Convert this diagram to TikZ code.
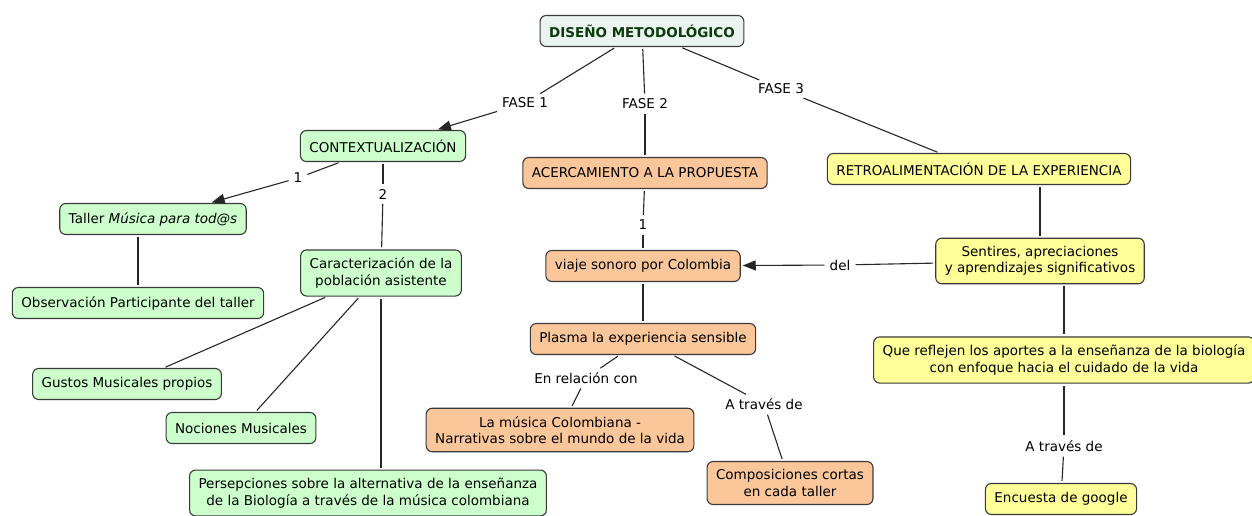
\documentclass[tikz,border=0pt]{standalone}
\usepackage{fontspec}
\setmainfont{DejaVu Sans}
\usetikzlibrary{arrows.meta}

\definecolor{verde}{HTML}{CCFFCC}
\definecolor{naranja}{HTML}{FAC69A}
\definecolor{amarillo}{HTML}{FFFF99}
\definecolor{gristit}{HTML}{EAF3EF}
\definecolor{verdeosc}{HTML}{0B3B0B}
\definecolor{borde}{HTML}{3A3A3A}

\begin{document}
\begin{tikzpicture}[x=1pt,y=-1pt,
  concepto/.style={draw=borde,line width=1.1pt,rounded corners=6pt,align=center,
    inner xsep=9pt,inner ysep=8pt,minimum height=31pt,font=\fontsize{13.5}{16.5}\selectfont},
  enlace/.style={inner sep=3pt,font=\fontsize{13.5}{16.5}\selectfont},
  linea/.style={draw=black!85,line width=1.1pt,shorten <=2pt,shorten >=2pt},
  flecha/.style={linea,-{Triangle[length=13pt,width=10pt]}}]
\useasboundingbox (0,0) rectangle (1252,515);

\node[concepto,fill=gristit,text=verdeosc,font=\fontsize{13.5}{16.5}\bfseries] (tit) at (642,31) {DISEÑO METODOLÓGICO};

\node[concepto,fill=verde] (con) at (383,146) {CONTEXTUALIZACIÓN};
\node[concepto,fill=naranja] (ace) at (645,173) {ACERCAMIENTO A LA PROPUESTA};
\node[concepto,fill=amarillo] (ret) at (979,169) {RETROALIMENTACIÓN DE LA EXPERIENCIA};

\node[concepto,fill=verde] (tal) at (153,219) {Taller \textit{Música para tod@s}};
\node[concepto,fill=verde] (obs) at (138,303) {Observación Participante del taller};
\node[concepto,fill=verde] (car) at (381,273) {Caracterización de la\\población asistente};
\node[concepto,fill=verde] (gus) at (127,384) {Gustos Musicales propios};
\node[concepto,fill=verde] (noc) at (241,428) {Nociones Musicales};
\node[concepto,fill=verde] (per) at (368,493) {Persepciones sobre la alternativa de la enseñanza\\de la Biología a través de la música colombiana};

\node[concepto,fill=naranja] (via) at (643,266) {viaje sonoro por Colombia};
\node[concepto,fill=naranja] (pla) at (643,339) {Plasma la experiencia sensible};
\node[concepto,fill=naranja] (mus) at (560,430) {La música Colombiana -\\Narrativas sobre el mundo de la vida};
\node[concepto,fill=naranja] (com) at (790,483) {Composiciones cortas\\en cada taller};

\node[concepto,fill=amarillo] (sen) at (1040,261) {Sentires, apreciaciones\\y aprendizajes significativos};
\node[concepto,fill=amarillo] (que) at (1064,360) {Que reflejen los aportes a la enseñanza de la biología\\con enfoque hacia el cuidado de la vida};
\node[concepto,fill=amarillo] (enc) at (1061,499) {Encuesta de google};

\node[enlace] (f1) at (525,103) {FASE 1};
\node[enlace] (f2) at (645,104) {FASE 2};
\node[enlace] (f3) at (781,89) {FASE 3};
\node[enlace] (u1) at (298,178) {1};
\node[enlace] (d2) at (383,194) {2};
\node[enlace] (u2) at (643,225) {1};
\node[enlace] (del) at (840,265) {del};
\node[enlace] (rel) at (586,378) {En relación con};
\node[enlace] (tr1) at (764,404) {A través de};
\node[enlace] (tr2) at (1064,446) {A través de};

\draw[linea] (tit) -- (f1);
\draw[flecha] (f1) -- (con);
\draw[linea] (tit) -- (f2);
\draw[linea] (f2) -- (ace);
\draw[linea] (tit) -- (f3);
\draw[linea] (f3) -- (ret);

\draw[linea] (con) -- (u1);
\draw[flecha] (u1) -- (tal);
\draw[linea] (con) -- (d2);
\draw[linea] (d2) -- (car);
\draw[linea] (obs) -- (obs |- tal.south);
\draw[linea] (car) -- (gus);
\draw[linea] (car) -- (noc);
\draw[linea] (car) -- (car |- per.north);

\draw[linea] (ace) -- (u2);
\draw[linea] (u2) -- (via);
\draw[linea] (via) -- (pla);
\draw[linea] (pla) -- (rel);
\draw[linea] (rel) -- (mus);
\draw[linea] (pla) -- (tr1);
\draw[linea] (tr1) -- (com);

\draw[linea] (sen) -- (sen |- ret.south);
\draw[linea] (sen) -- (del);
\draw[flecha] (del) -- (via);
\draw[linea] (que) -- (que |- sen.south);
\draw[linea] (que) -- (tr2);
\draw[linea] (tr2) -- (enc);

\end{tikzpicture}
\end{document}
